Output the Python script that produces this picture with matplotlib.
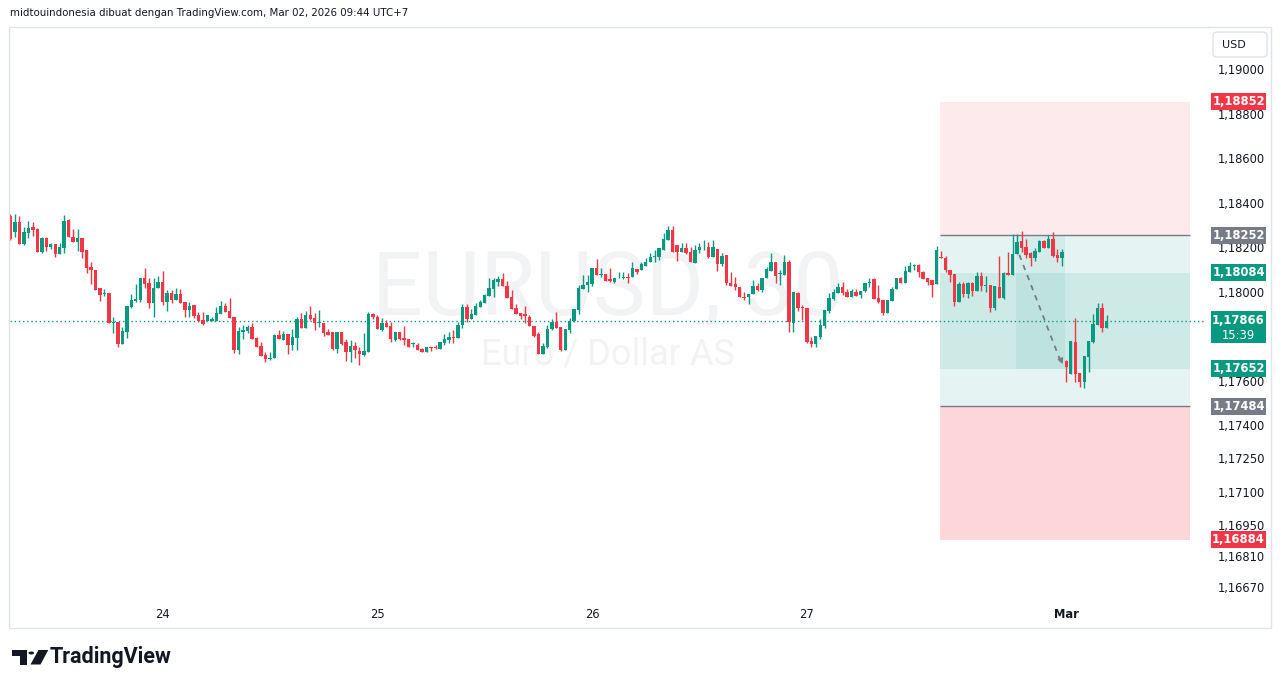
import matplotlib
matplotlib.use("Agg")
import matplotlib.pyplot as plt
from matplotlib.patches import Rectangle, Polygon, Circle, FancyBboxPatch
from matplotlib.transforms import blended_transform_factory
import numpy as np

# EURUSD 30m candles (Feb 23 .. Mar 2)
opens = [1.18339, 1.18268, 1.18313, 1.18214, 1.18264, 1.18291, 1.18282, 1.18178, 1.18241, 1.18200,
         1.18214, 1.18169, 1.18196, 1.18322, 1.18246, 1.18223, 1.18241, 1.18187, 1.18110, 1.18097,
         1.18016, 1.17989, 1.17993, 1.17859, 1.17863, 1.17764, 1.17818, 1.17931, 1.17958, 1.17962,
         1.18061, 1.18039, 1.17949, 1.18016, 1.18043, 1.17953, 1.17993, 1.17962, 1.17989, 1.17953,
         1.17917, 1.17940, 1.17895, 1.17872, 1.17868, 1.17868, 1.17868, 1.17899, 1.17935, 1.17913,
         1.17886, 1.17737, 1.17818, 1.17823, 1.17841, 1.17791, 1.17755, 1.17715, 1.17697, 1.17701,
         1.17805, 1.17782, 1.17809, 1.17760, 1.17791, 1.17877, 1.17836, 1.17895, 1.17881, 1.17859,
         1.17859, 1.17818, 1.17818, 1.17742, 1.17818, 1.17773, 1.17728, 1.17755, 1.17733, 1.17715,
         1.17728, 1.17899, 1.17886, 1.17827, 1.17859, 1.17845, 1.17782, 1.17818, 1.17791, 1.17787,
         1.17764, 1.17760, 1.17742, 1.17728, 1.17751, 1.17751, 1.17742, 1.17769, 1.17782, 1.17796,
         1.17791, 1.17850, 1.17931, 1.17877, 1.17895, 1.17931, 1.17949, 1.17980, 1.18011, 1.18043,
         1.18056, 1.18025, 1.17976, 1.17926, 1.17904, 1.17899, 1.17886, 1.17845, 1.17809, 1.17719,
         1.17751, 1.17832, 1.17863, 1.17841, 1.17737, 1.17827, 1.17868, 1.17917, 1.18011, 1.18029,
         1.18034, 1.18106, 1.18075, 1.18079, 1.18056, 1.18043, 1.18059, 1.18061, 1.18066, 1.18066,
         1.18101, 1.18097, 1.18115, 1.18133, 1.18156, 1.18156, 1.18187, 1.18232, 1.18277, 1.18210,
         1.18178, 1.18196, 1.18178, 1.18129, 1.18187, 1.18198, 1.18200, 1.18156, 1.18192, 1.18124,
         1.18165, 1.18039, 1.18034, 1.18020, 1.17976, 1.17976, 1.17989, 1.18025, 1.18007, 1.18061,
         1.18093, 1.18133, 1.18079, 1.18075, 1.18133, 1.17859, 1.17993, 1.17931, 1.17926, 1.17778,
         1.17764, 1.17796, 1.17845, 1.17913, 1.17967, 1.17993, 1.18020, 1.17998, 1.17976, 1.17998,
         1.17984, 1.18002, 1.18039, 1.18056, 1.17971, 1.17962, 1.17904, 1.17958, 1.18011, 1.18061,
         1.18039, 1.18088, 1.18115, 1.18120, 1.18088, 1.18061, 1.18052, 1.18034, 1.18156, 1.18151,
         1.18097, 1.18079, 1.17953, 1.18034, 1.17989, 1.18039, 1.18002, 1.18070, 1.18025, 1.18029,
         1.17926, 1.18020, 1.17971, 1.18084, 1.18075, 1.18169, 1.18228, 1.18200, 1.18174, 1.18151,
         1.18178, 1.18228, 1.18196, 1.18237, 1.18165, 1.18151, 1.17688, 1.17629, 1.17773, 1.17634,
         1.17593, 1.17706, 1.17773, 1.17850, 1.17926, 1.17836]
highs = [1.18348, 1.18348, 1.18339, 1.18291, 1.18318, 1.18313, 1.18286, 1.18246, 1.18246, 1.18219,
         1.18214, 1.18219, 1.18344, 1.18326, 1.18282, 1.18282, 1.18241, 1.18187, 1.18133, 1.18097,
         1.18016, 1.18011, 1.17993, 1.17886, 1.17863, 1.17841, 1.17935, 1.17989, 1.18034, 1.18061,
         1.18106, 1.18061, 1.18061, 1.18070, 1.18093, 1.18007, 1.18007, 1.18016, 1.18011, 1.17953,
         1.17953, 1.17940, 1.17908, 1.17908, 1.17895, 1.17886, 1.17931, 1.17958, 1.17949, 1.17971,
         1.17886, 1.17841, 1.17850, 1.17850, 1.17859, 1.17796, 1.17773, 1.17728, 1.17728, 1.17809,
         1.17827, 1.17823, 1.17809, 1.17832, 1.17886, 1.17904, 1.17913, 1.17935, 1.17904, 1.17917,
         1.17859, 1.17832, 1.17818, 1.17818, 1.17818, 1.17787, 1.17782, 1.17773, 1.17751, 1.17814,
         1.17908, 1.17904, 1.17895, 1.17881, 1.17872, 1.17863, 1.17818, 1.17818, 1.17845, 1.17787,
         1.17773, 1.17769, 1.17746, 1.17751, 1.17751, 1.17760, 1.17773, 1.17809, 1.17818, 1.17827,
         1.17863, 1.17944, 1.17944, 1.17922, 1.17949, 1.17962, 1.17989, 1.18061, 1.18061, 1.18070,
         1.18084, 1.18048, 1.18007, 1.17944, 1.17904, 1.17935, 1.17895, 1.17845, 1.17818, 1.17769,
         1.17850, 1.17877, 1.17908, 1.17841, 1.17832, 1.17881, 1.17922, 1.18029, 1.18075, 1.18075,
         1.18106, 1.18146, 1.18106, 1.18079, 1.18106, 1.18061, 1.18088, 1.18088, 1.18084, 1.18133,
         1.18101, 1.18133, 1.18151, 1.18174, 1.18187, 1.18196, 1.18264, 1.18295, 1.18295, 1.18210,
         1.18219, 1.18219, 1.18200, 1.18210, 1.18219, 1.18232, 1.18223, 1.18232, 1.18192, 1.18174,
         1.18165, 1.18088, 1.18066, 1.18020, 1.17998, 1.17989, 1.18052, 1.18039, 1.18061, 1.18110,
         1.18174, 1.18133, 1.18097, 1.18165, 1.18142, 1.17998, 1.17998, 1.17940, 1.17926, 1.17796,
         1.17800, 1.17877, 1.17917, 1.17993, 1.18011, 1.18039, 1.18043, 1.18011, 1.18011, 1.18011,
         1.18002, 1.18039, 1.18061, 1.18061, 1.18029, 1.17962, 1.17962, 1.18020, 1.18061, 1.18066,
         1.18115, 1.18133, 1.18124, 1.18124, 1.18093, 1.18061, 1.18052, 1.18205, 1.18183, 1.18160,
         1.18097, 1.18079, 1.18043, 1.18043, 1.18043, 1.18043, 1.18088, 1.18088, 1.18070, 1.18029,
         1.18025, 1.18160, 1.18088, 1.18178, 1.18259, 1.18259, 1.18273, 1.18237, 1.18178, 1.18196,
         1.18232, 1.18232, 1.18255, 1.18268, 1.18192, 1.18192, 1.17692, 1.17778, 1.17881, 1.17634,
         1.17710, 1.17778, 1.17899, 1.17949, 1.17949, 1.17895]
lows = [1.18232, 1.18246, 1.18214, 1.18210, 1.18241, 1.18250, 1.18178, 1.18175, 1.18183, 1.18192,
        1.18156, 1.18169, 1.18174, 1.18246, 1.18223, 1.18183, 1.18151, 1.18084, 1.18034, 1.18007,
        1.17958, 1.17980, 1.17859, 1.17814, 1.17751, 1.17764, 1.17791, 1.17926, 1.17953, 1.17953,
        1.18016, 1.17926, 1.17886, 1.18016, 1.17940, 1.17913, 1.17949, 1.17962, 1.17949, 1.17886,
        1.17886, 1.17881, 1.17863, 1.17850, 1.17868, 1.17868, 1.17868, 1.17899, 1.17908, 1.17881,
        1.17724, 1.17719, 1.17787, 1.17814, 1.17787, 1.17751, 1.17710, 1.17683, 1.17692, 1.17701,
        1.17787, 1.17782, 1.17719, 1.17737, 1.17737, 1.17836, 1.17836, 1.17872, 1.17827, 1.17841,
        1.17800, 1.17805, 1.17737, 1.17724, 1.17760, 1.17688, 1.17683, 1.17701, 1.17670, 1.17710,
        1.17728, 1.17877, 1.17832, 1.17823, 1.17841, 1.17773, 1.17778, 1.17782, 1.17760, 1.17751,
        1.17751, 1.17737, 1.17728, 1.17728, 1.17733, 1.17742, 1.17742, 1.17760, 1.17769, 1.17769,
        1.17791, 1.17836, 1.17863, 1.17877, 1.17895, 1.17931, 1.17949, 1.17980, 1.17976, 1.18025,
        1.18025, 1.17971, 1.17922, 1.17899, 1.17877, 1.17859, 1.17845, 1.17796, 1.17719, 1.17719,
        1.17746, 1.17827, 1.17836, 1.17733, 1.17737, 1.17814, 1.17863, 1.17899, 1.18011, 1.17998,
        1.18025, 1.18075, 1.18066, 1.18048, 1.18043, 1.18039, 1.18059, 1.18056, 1.18039, 1.18066,
        1.18079, 1.18097, 1.18115, 1.18133, 1.18133, 1.18142, 1.18187, 1.18232, 1.18178, 1.18138,
        1.18178, 1.18169, 1.18133, 1.18129, 1.18174, 1.18187, 1.18151, 1.18156, 1.18093, 1.18115,
        1.18029, 1.18025, 1.18007, 1.17976, 1.17962, 1.17944, 1.17989, 1.18002, 1.17998, 1.18061,
        1.18093, 1.18039, 1.18029, 1.18075, 1.17818, 1.17818, 1.17913, 1.17872, 1.17769, 1.17751,
        1.17751, 1.17787, 1.17836, 1.17904, 1.17962, 1.17993, 1.17984, 1.17976, 1.17976, 1.17980,
        1.17971, 1.17998, 1.18020, 1.17967, 1.17949, 1.17895, 1.17904, 1.17958, 1.18011, 1.18039,
        1.18039, 1.18088, 1.18097, 1.18066, 1.18056, 1.18029, 1.17976, 1.18034, 1.18151, 1.18088,
        1.18043, 1.17935, 1.17953, 1.17976, 1.17971, 1.17980, 1.18002, 1.18002, 1.17998, 1.17908,
        1.17917, 1.17971, 1.17967, 1.18075, 1.18075, 1.18169, 1.18178, 1.18151, 1.18115, 1.18138,
        1.18178, 1.18196, 1.18196, 1.18156, 1.18133, 1.18115, 1.17593, 1.17629, 1.17593, 1.17571,
        1.17566, 1.17638, 1.17769, 1.17850, 1.17818, 1.17836]
closes = [1.18237, 1.18313, 1.18214, 1.18268, 1.18286, 1.18277, 1.18178, 1.18241, 1.18200, 1.18214,
          1.18169, 1.18200, 1.18318, 1.18246, 1.18223, 1.18241, 1.18178, 1.18106, 1.18097, 1.18007,
          1.17984, 1.17993, 1.17859, 1.17863, 1.17764, 1.17823, 1.17935, 1.17962, 1.17967, 1.18061,
          1.18034, 1.17949, 1.18016, 1.18043, 1.17953, 1.17993, 1.17962, 1.17989, 1.17949, 1.17917,
          1.17935, 1.17890, 1.17868, 1.17854, 1.17895, 1.17877, 1.17904, 1.17935, 1.17908, 1.17881,
          1.17737, 1.17823, 1.17827, 1.17841, 1.17787, 1.17751, 1.17710, 1.17697, 1.17701, 1.17805,
          1.17787, 1.17809, 1.17760, 1.17796, 1.17877, 1.17836, 1.17895, 1.17877, 1.17859, 1.17863,
          1.17814, 1.17805, 1.17742, 1.17818, 1.17764, 1.17728, 1.17755, 1.17737, 1.17719, 1.17733,
          1.17899, 1.17886, 1.17832, 1.17859, 1.17841, 1.17787, 1.17818, 1.17787, 1.17782, 1.17751,
          1.17769, 1.17737, 1.17728, 1.17751, 1.17746, 1.17746, 1.17773, 1.17787, 1.17796, 1.17791,
          1.17850, 1.17931, 1.17877, 1.17899, 1.17935, 1.17953, 1.17984, 1.18016, 1.18052, 1.18056,
          1.18025, 1.17971, 1.17922, 1.17899, 1.17890, 1.17890, 1.17845, 1.17800, 1.17719, 1.17755,
          1.17832, 1.17863, 1.17836, 1.17737, 1.17832, 1.17868, 1.17922, 1.18016, 1.18029, 1.18043,
          1.18106, 1.18075, 1.18079, 1.18048, 1.18048, 1.18061, 1.18063, 1.18066, 1.18061, 1.18106,
          1.18088, 1.18124, 1.18133, 1.18156, 1.18160, 1.18196, 1.18237, 1.18277, 1.18178, 1.18178,
          1.18196, 1.18174, 1.18133, 1.18187, 1.18200, 1.18201, 1.18156, 1.18200, 1.18124, 1.18160,
          1.18039, 1.18025, 1.18020, 1.17976, 1.17971, 1.17989, 1.18025, 1.18007, 1.18061, 1.18101,
          1.18133, 1.18070, 1.18084, 1.18133, 1.17863, 1.17998, 1.17926, 1.17926, 1.17773, 1.17764,
          1.17800, 1.17850, 1.17917, 1.17971, 1.17998, 1.18020, 1.17993, 1.17976, 1.18002, 1.17980,
          1.18002, 1.18039, 1.18043, 1.17967, 1.17953, 1.17904, 1.17962, 1.18011, 1.18061, 1.18039,
          1.18093, 1.18115, 1.18120, 1.18088, 1.18056, 1.18043, 1.18029, 1.18187, 1.18151, 1.18097,
          1.18075, 1.17953, 1.18034, 1.17989, 1.18039, 1.18002, 1.18070, 1.18025, 1.18029, 1.17926,
          1.18025, 1.17971, 1.18084, 1.18075, 1.18169, 1.18223, 1.18196, 1.18165, 1.18151, 1.18183,
          1.18228, 1.18196, 1.18237, 1.18160, 1.18151, 1.18178, 1.17660, 1.17778, 1.17629, 1.17593,
          1.17710, 1.17778, 1.17854, 1.17926, 1.17836, 1.17866]

day_bars = [34, 82, 130, 178, 236]
day_labels = ["24", "25", "26", "27", "Mar"]

price_ticks = [1.19000, 1.18800, 1.18600, 1.18400, 1.18200, 1.18000, 1.17600,
               1.17400, 1.17250, 1.17100, 1.16950, 1.16810, 1.16670]

# position tool levels
stop_top = 1.18852
entry_short = 1.18252
entry_mid = 1.18084
mid_low = 1.17652
entry_long = 1.17484
stop_bottom = 1.16884
last_price = 1.17866
countdown = "15:39"

GREEN = "#089981"
RED = "#f23645"
GREY = "#787b86"
TXT = "#131722"

W, H = 1281, 688
fig = plt.figure(figsize=(W / 100, H / 100), dpi=100)
fig.patch.set_facecolor("white")


def fx(px):
    return px / W


def fy(py):
    return 1 - py / H


ax = fig.add_axes([fx(10), fy(600), (1205 - 10) / W, (600 - 28) / H])
ax.set_xlim(-0.11, 267.0)
ax.set_ylim(1.166137, 1.191843)
for s in ax.spines.values():
    s.set_visible(False)

x = np.arange(len(opens))
o = np.array(opens)
c = np.array(closes)
up = c >= o
cols = np.where(up, GREEN, RED)
bottoms = np.minimum(o, c)
heights = np.maximum(np.abs(c - o), 0.00002)
ax.vlines(x, lows, highs, colors=cols, linewidth=1, zorder=3)
ax.bar(x, heights, bottom=bottoms, width=0.76, color=cols, linewidth=0, zorder=4)

# watermark
ax.text(0.5, 0.542, "EURUSD, 30", transform=ax.transAxes, ha="center", va="center",
        fontsize=64, color=GREY, alpha=0.09, family="Roboto", zorder=0.5)
ax.text(0.5, 0.43, "Euro / Dollar AS", transform=ax.transAxes, ha="center", va="center",
        fontsize=26, color=GREY, alpha=0.09, family="Roboto", zorder=0.5)

# position tools
x0, x1 = 207.8, 263.7
wd = x1 - x0
ax.add_patch(Rectangle((x0, entry_short), wd, stop_top - entry_short, color=RED, alpha=0.1, lw=0, zorder=1))
ax.add_patch(Rectangle((x0, entry_long), wd, entry_short - entry_long, color=GREEN, alpha=0.1, lw=0, zorder=1))
ax.add_patch(Rectangle((x0, stop_bottom), wd, entry_long - stop_bottom, color=RED, alpha=0.2, lw=0, zorder=1))
ax.add_patch(Rectangle((x0, mid_low), wd, entry_mid - mid_low, color=GREEN, alpha=0.1, lw=0, zorder=1))
ax.add_patch(Rectangle((224.8, mid_low), 235.7 - 224.8, entry_short - mid_low, color=GREEN, alpha=0.08, lw=0, zorder=1))
ax.hlines([entry_short, entry_long], x0, x1, colors=GREY, linewidth=1, zorder=2)

# dashed arrow
ax.plot([225.5, 235.0], [1.18165, 1.17672], color=GREY, lw=1.3, ls=(0, (3, 3)), zorder=5)
ax.annotate("", xy=(235.4, 1.17662), xytext=(234.6, 1.17702),
            arrowprops=dict(arrowstyle="-|>", color=GREY, lw=1, mutation_scale=8), zorder=5)

# last price line
ax.axhline(last_price, color=GREEN, lw=1, ls=(0, (1, 2)), zorder=2)

# axes ticks
ax.yaxis.tick_right()
ax.set_yticks(price_ticks)
ax.set_yticklabels([f"{v:.5f}".replace(".", ",") for v in price_ticks])
ax.tick_params(axis="y", length=0, pad=9.5, labelsize=8.3, labelcolor=TXT)
ax.set_xticks(day_bars)
ax.set_xticklabels(day_labels)
ax.tick_params(axis="x", length=0, pad=6, labelsize=8.3, labelcolor=TXT)
ax.get_xticklabels()[-1].set_fontweight("bold")

# price tags on the scale
tr = blended_transform_factory(ax.transAxes, ax.transData)
px_h = (1.191843 - 1.166137) / 572
tx0 = (1211 - 10) / 1195
tx1 = (1266 - 10) / 1195
tags = [(stop_top, RED), (entry_short, GREY), (entry_mid, GREEN),
        (mid_low, GREEN), (entry_long, GREY), (stop_bottom, RED)]
for val, col in tags:
    ax.add_patch(Rectangle((tx0, val - 8.5 * px_h), tx1 - tx0, 17 * px_h, transform=tr,
                           color=col, lw=0, clip_on=False, zorder=6))
    ax.text((tx0 + tx1) / 2, val, f"{val:.5f}".replace(".", ","), transform=tr,
            ha="center", va="center", fontsize=8.3, color="white", fontweight="bold",
            clip_on=False, zorder=7)
ax.add_patch(Rectangle((tx0, last_price - 22 * px_h), tx1 - tx0, 32 * px_h, transform=tr,
                       color=GREEN, lw=0, clip_on=False, zorder=6))
ax.text((tx0 + tx1) / 2, last_price + 1 * px_h, f"{last_price:.5f}".replace(".", ","), transform=tr,
        ha="center", va="center", fontsize=8.3, color="white", fontweight="bold", clip_on=False, zorder=7)
ax.text((tx0 + tx1) / 2, last_price - 14 * px_h, countdown, transform=tr,
        ha="center", va="center", fontsize=8.3, color="white", clip_on=False, zorder=7)

# frame
fig.patches.append(Rectangle((fx(9), fy(628)), (1271 - 9) / W, (628 - 27) / H, transform=fig.transFigure,
                             fill=False, edgecolor="#e0e3eb", lw=1))
fig.patches.append(FancyBboxPatch((fx(1213), fy(57)), 54 / W, 25 / H, boxstyle="round,pad=0,rounding_size=0.004",
                                  transform=fig.transFigure, fill=False, edgecolor="#e0e3eb", lw=1))
fig.text(fx(1222), fy(45), "USD", fontsize=8, color=TXT, va="center", ha="left")

# header
fig.text(fx(10), fy(13), "midtouindonesia dibuat dengan TradingView.com, Mar 02, 2026 09:44 UTC+7",
         fontsize=7.4, color=TXT, va="center", ha="left")

# logo
logo_t = [(11.7, 650), (26.7, 650), (26.7, 664.5), (19.5, 664.5), (19.5, 656), (11.7, 656)]
fig.patches.append(Polygon([(fx(a), fy(b)) for a, b in logo_t], closed=True, transform=fig.transFigure,
                           color=TXT, lw=0))
fig.patches.append(Circle((fx(31.3), fy(653)), 2.8 / W, transform=fig.transFigure, color=TXT, lw=0))
logo_s = [(38.5, 650), (48.3, 650), (40.5, 664.5), (30.5, 664.5)]
fig.patches.append(Polygon([(fx(a), fy(b)) for a, b in logo_s], closed=True, transform=fig.transFigure,
                           color=TXT, lw=0))
fig.text(fx(50), fy(657.5), "TradingView", fontsize=15.5, fontweight="bold", family="Roboto",
         color=TXT, va="center", ha="left")

fig.savefig("out.png", dpi=100)
